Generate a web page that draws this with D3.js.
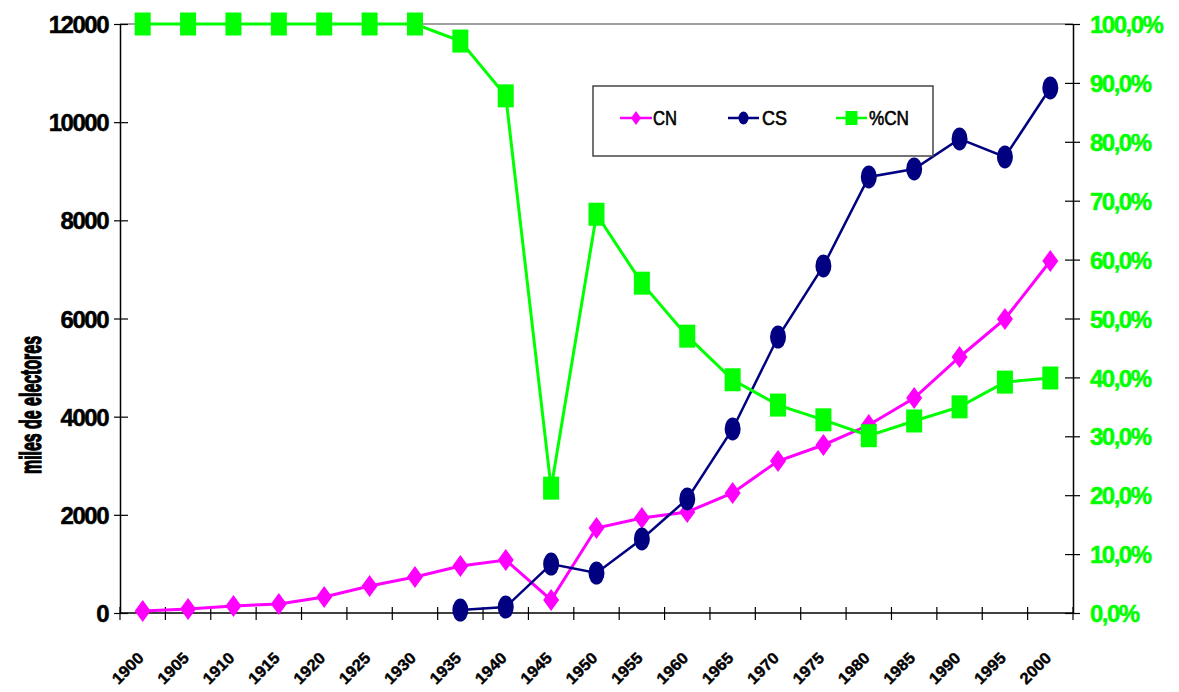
<!DOCTYPE html>
<html><head><meta charset="utf-8">
<script src="https://cdn.jsdelivr.net/npm/d3@7"></script>
<style>html,body{margin:0;padding:0;background:#fff;}svg{display:block;}</style>
</head><body>
<svg id="chart" width="1179" height="692"></svg>
<script>
const years = ["1900","1905","1910","1915","1920","1925","1930","1935","1940","1945","1950","1955","1960","1965","1970","1975","1980","1985","1990","1995","2000"];
const CN = [41,81,143,183,326,550,733,958,1080,265,1732,1935,2058,2445,3097,3423,3830,4380,5216,5990,7172];
const CS = [null,null,null,null,null,null,null,60,122,998,815,1508,2323,3749,5623,7070,8883,9046,9658,9291,10697];
const pctCN = [100,100,100,100,100,100,100,97.1,87.8,21.2,67.7,56.0,47.0,39.6,35.3,32.8,30.1,32.6,35.0,39.2,39.9];
const leftTicks = [0,2000,4000,6000,8000,10000,12000];
const rightTicks = [0,10,20,30,40,50,60,70,80,90,100];
const yLabel = "miles de electores";
const seriesNames = ["CN","CS","%CN"];

const svg = d3.select("#chart");
const L = 120, R = 1073, T = 24, B = 613;
const font = "'Liberation Sans', Arial, sans-serif";

const x = d3.scaleBand().domain(years).range([L, R]);
const cx = d => x(d) + x.bandwidth() / 2;
const yL = d3.scaleLinear().domain([0, 12000]).range([B, T]);
const yR = d3.scaleLinear().domain([0, 100]).range([B, T]);

// top border line
svg.append("line").attr("x1", L).attr("x2", R).attr("y1", T).attr("y2", T)
  .attr("stroke", "#a0a0a0").attr("stroke-width", 2);

// left axis
const gl = svg.append("g").attr("transform", `translate(${L},0)`)
  .call(d3.axisLeft(yL).tickValues(leftTicks).tickSize(0).tickPadding(12).tickFormat(d3.format("d")));
gl.select(".domain").attr("stroke", "#000").attr("stroke-width", 1.5);
gl.selectAll(".tick line").remove();
gl.selectAll(".tick").append("line").attr("x1", -6).attr("x2", 8).attr("stroke", "#000").attr("stroke-width", 1.2);
gl.selectAll(".tick text").attr("font-family", font).attr("font-weight", "bold").attr("font-size", 24)
  .attr("fill", "#000").attr("stroke", "#000").attr("stroke-width", 0.5)
  .attr("letter-spacing", "-1.5px").attr("dy", "0.36em");

// right axis
const gr = svg.append("g").attr("transform", `translate(${R},0)`)
  .call(d3.axisRight(yR).tickValues(rightTicks).tickSize(0).tickPadding(17).tickFormat(d => d3.format(".1f")(d).replace(".", ",") + "%"));
gr.select(".domain").attr("stroke", "#000").attr("stroke-width", 1.5);
gr.selectAll(".tick line").remove();
gr.selectAll(".tick").append("line").attr("x1", -8).attr("x2", 7).attr("stroke", "#000").attr("stroke-width", 1.2);
gr.selectAll(".tick text").attr("font-family", font).attr("font-weight", "bold").attr("font-size", 24)
  .attr("fill", "#00FF00").attr("stroke", "#00FF00").attr("stroke-width", 0.5)
  .attr("letter-spacing", "-1.5px").attr("dy", "0.36em");

// bottom axis
svg.append("line").attr("x1", L).attr("x2", R).attr("y1", B).attr("y2", B).attr("stroke", "#000").attr("stroke-width", 1.5);
const edges = years.map(d => x(d)).concat([R]);
svg.append("g").selectAll("line").data(edges).join("line")
  .attr("x1", d => d).attr("x2", d => d).attr("y1", B - 6).attr("y2", B + 7)
  .attr("stroke", "#000").attr("stroke-width", 1.2);
svg.append("g").selectAll("text").data(years).join("text")
  .attr("transform", d => `translate(${cx(d) + 2},${B + 46}) rotate(-45)`)
  .attr("text-anchor", "end")
  .attr("font-family", font).attr("font-weight", "bold").attr("font-size", 16)
  .attr("stroke", "#000").attr("stroke-width", 0.4)
  .attr("textLength", 37).attr("lengthAdjust", "spacingAndGlyphs")
  .text(d => d);

// y label
svg.append("text")
  .attr("transform", `translate(41,405) rotate(-90)`)
  .attr("text-anchor", "middle")
  .attr("font-family", font).attr("font-weight", "bold").attr("font-size", 29)
  .attr("stroke", "#000").attr("stroke-width", 1.3)
  .attr("textLength", 138).attr("lengthAdjust", "spacingAndGlyphs")
  .text(yLabel);

const colCN = "#FF00FF", colCS = "#000080", colP = "#00FF00";

// CN
const dCN = years.map((d, i) => ({ x: cx(d), y: yL(CN[i]) }));
svg.append("path").datum(dCN).attr("fill", "none").attr("stroke", colCN).attr("stroke-width", 3)
  .attr("d", d3.line().x(d => d.x).y(d => d.y));
svg.append("g").selectAll("path").data(dCN).join("path")
  .attr("transform", d => `translate(${d.x},${d.y})`)
  .attr("d", "M0,-11L8,0L0,11L-8,0Z").attr("fill", colCN);

// CS
const dCS = years.map((d, i) => ({ x: cx(d), v: CS[i] })).filter(d => d.v !== null).map(d => ({ x: d.x, y: yL(d.v) }));
svg.append("path").datum(dCS).attr("fill", "none").attr("stroke", colCS).attr("stroke-width", 2.5)
  .attr("d", d3.line().x(d => d.x).y(d => d.y));
svg.append("g").selectAll("ellipse").data(dCS).join("ellipse")
  .attr("cx", d => d.x).attr("cy", d => d.y).attr("rx", 8).attr("ry", 11.5).attr("fill", colCS);

// %CN
const dP = years.map((d, i) => ({ x: cx(d), y: yR(pctCN[i]) }));
svg.append("path").datum(dP).attr("fill", "none").attr("stroke", colP).attr("stroke-width", 3)
  .attr("d", d3.line().x(d => d.x).y(d => d.y));
svg.append("g").selectAll("rect").data(dP).join("rect")
  .attr("x", d => d.x - 8).attr("y", d => d.y - 11.5).attr("width", 16).attr("height", 23).attr("fill", colP);

// legend
const lg = svg.append("g");
lg.append("rect").attr("x", 593).attr("y", 86).attr("width", 340).attr("height", 70)
  .attr("fill", "#fff").attr("stroke", "#444").attr("stroke-width", 1.5);
const legItems = [
  { name: seriesNames[0], color: colCN, x1: 620, x2: 652, tx: 653, tw: 24, shape: "diamond" },
  { name: seriesNames[1], color: colCS, x1: 728, x2: 759, tx: 762, tw: 25, shape: "circle" },
  { name: seriesNames[2], color: colP, x1: 836, x2: 867, tx: 869, tw: 40, shape: "square" }
];
const ly = 118;
legItems.forEach(it => {
  lg.append("line").attr("x1", it.x1).attr("x2", it.x2).attr("y1", ly).attr("y2", ly)
    .attr("stroke", it.color).attr("stroke-width", 2.5);
  const mx = (it.x1 + it.x2) / 2;
  if (it.shape === "diamond") lg.append("path").attr("transform", `translate(${mx},${ly})`).attr("d", "M0,-7L5,0L0,7L-5,0Z").attr("fill", it.color);
  else if (it.shape === "circle") lg.append("ellipse").attr("cx", mx).attr("cy", ly).attr("rx", 5).attr("ry", 6.5).attr("fill", it.color);
  else lg.append("rect").attr("x", mx - 6).attr("y", ly - 7).attr("width", 12).attr("height", 14).attr("fill", it.color);
  lg.append("text").attr("x", it.tx).attr("y", ly).attr("dy", "0.36em")
    .attr("font-family", font).attr("font-size", 20)
    .attr("stroke", "#000").attr("stroke-width", 0.6)
    .attr("textLength", it.tw).attr("lengthAdjust", "spacingAndGlyphs").text(it.name);
});
</script>
</body></html>
